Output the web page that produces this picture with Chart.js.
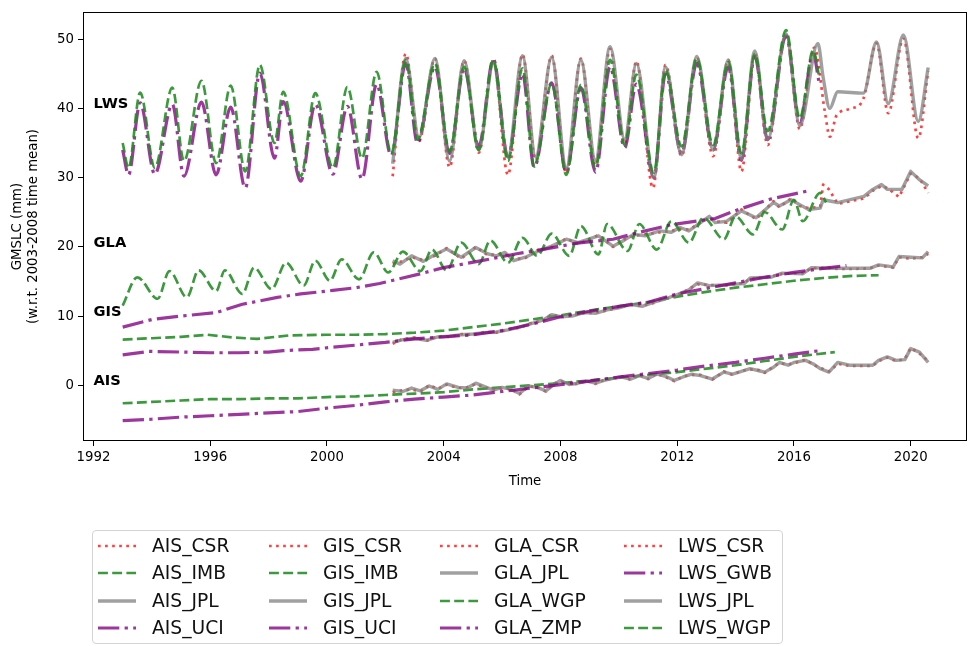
<!DOCTYPE html>
<html><head><meta charset="utf-8">
<script src="https://cdn.jsdelivr.net/npm/chart.js@4.4.1/dist/chart.umd.min.js"></script>
<style>
html,body{margin:0;padding:0;background:#fff;}
#wrap{position:relative;width:971px;height:646px;overflow:hidden;font-family:"DejaVu Sans",sans-serif;}
#c{position:absolute;left:0;top:0;}
#legendBox{position:absolute;left:92px;top:530px;width:691px;height:114px;border:1px solid #d4d4d4;border-radius:4px;box-sizing:border-box;}
.item{position:absolute;height:22px;display:flex;align-items:center;font-size:18.7px;color:#111;white-space:nowrap;line-height:22px;}
.item svg{flex:none;}
</style></head>
<body>
<div id="wrap">
<canvas id="c" width="971" height="646"></canvas>
<div id="legendBox"></div>
</div>
<script>
// ---------- axes ----------
const xTicks = [1992, 1996, 2000, 2004, 2008, 2012, 2016, 2020];
const yTicks = [0, 10, 20, 30, 40, 50];
const regionLabels = ['LWS', 'GLA', 'GIS', 'AIS'];
const regionLabelY = [40, 20, 10, 0];
const regionLabelX = 1992;

// ---------- AIS ----------
const AIS_CSR = [[2002.25,-1.0],[2002.6,-0.7],[2002.9,-0.6],[2003.2,-0.9],[2003.5,0.0],[2003.8,-0.5],[2004.1,0.1],[2004.5,-0.4],[2004.8,-0.3],[2005.1,0.2],[2005.4,-0.3],[2005.7,-0.6],[2006.0,-0.5],[2006.3,-0.5],[2006.6,-1.3],[2006.9,-0.2],[2007.2,-0.2],[2007.5,-0.9],[2007.8,0.3],[2008.0,0.6],[2008.3,0.2],[2008.6,0.2],[2008.9,0.7],[2009.2,0.2],[2009.5,0.8],[2009.8,0.9],[2010.1,1.3],[2010.4,0.8],[2010.7,1.5],[2011.0,0.9],[2011.3,1.7],[2011.6,1.2],[2011.9,0.6],[2012.2,1.3],[2012.5,1.5],[2012.8,1.5],[2013.2,0.8],[2013.6,2.0],[2013.9,1.5],[2014.2,2.1],[2014.5,2.3],[2014.8,2.2],[2015.0,1.8],[2015.3,2.7],[2015.5,3.2],[2015.8,3.0],[2016.0,3.2],[2016.4,3.7],[2016.7,2.9],[2016.9,2.5],[2017.2,2.0],[2017.5,3.1],[2017.9,2.8],[2018.3,2.8],[2018.7,2.8],[2018.9,3.5],[2019.2,4.0],[2019.5,3.5],[2019.8,3.8],[2020.0,5.4],[2020.3,4.6],[2020.6,3.5]];
const AIS_IMB = [[1993.0,-2.6],[1994.0,-2.4],[1995.0,-2.2],[1996.0,-2.0],[1997.0,-2.0],[1998.0,-1.9],[1999.0,-1.9],[2000.0,-1.7],[2001.0,-1.6],[2002.0,-1.4],[2003.0,-1.2],[2004.0,-1.0],[2005.0,-0.6],[2006.0,-0.3],[2007.0,0.0],[2008.0,0.3],[2009.0,0.7],[2010.0,1.1],[2011.0,1.5],[2012.0,1.9],[2013.0,2.4],[2014.0,2.9],[2015.0,3.5],[2016.0,4.1],[2017.4,4.8]];
const AIS_JPL = [[2002.25,-0.7],[2002.6,-0.9],[2002.9,-0.4],[2003.2,-0.8],[2003.5,-0.1],[2003.8,-0.6],[2004.1,0.2],[2004.5,-0.3],[2004.8,-0.4],[2005.1,0.3],[2005.4,-0.2],[2005.7,-0.7],[2006.0,-0.3],[2006.3,-0.6],[2006.6,-1.2],[2006.9,-0.1],[2007.2,-0.3],[2007.5,-0.8],[2007.8,0.2],[2008.0,0.7],[2008.3,0.1],[2008.6,0.3],[2008.9,0.6],[2009.2,0.3],[2009.5,0.7],[2009.8,1.0],[2010.1,1.2],[2010.4,0.9],[2010.7,1.4],[2011.0,1.0],[2011.3,1.6],[2011.6,1.3],[2011.9,0.7],[2012.2,1.2],[2012.5,1.6],[2012.8,1.4],[2013.2,0.9],[2013.6,1.9],[2013.9,1.6],[2014.2,2.0],[2014.5,2.4],[2014.8,2.1],[2015.0,1.9],[2015.3,2.6],[2015.5,3.3],[2015.8,2.9],[2016.0,3.3],[2016.4,3.6],[2016.7,3.0],[2016.9,2.4],[2017.2,1.9],[2017.5,3.3],[2017.9,2.9],[2018.7,2.9],[2018.9,3.6],[2019.2,4.1],[2019.5,3.6],[2019.8,3.7],[2020.0,5.3],[2020.3,4.8],[2020.6,3.3]];
const AIS_UCI = [[1993.0,-5.1],[1994.0,-4.9],[1995.0,-4.6],[1996.0,-4.4],[1997.0,-4.2],[1998.0,-4.0],[1999.0,-3.8],[2000.0,-3.3],[2001.0,-2.9],[2002.0,-2.4],[2003.0,-2.0],[2004.0,-1.7],[2005.0,-1.4],[2006.0,-0.9],[2007.0,-0.4],[2008.0,0.1],[2009.0,0.6],[2010.0,1.2],[2011.0,1.7],[2012.0,2.2],[2013.0,2.8],[2014.0,3.3],[2015.0,3.9],[2016.0,4.5],[2016.9,5.0]];

// ---------- GIS ----------
const GIS_CSR = [[2002.25,6.0],[2002.6,6.7],[2003.0,6.9],[2003.4,6.4],[2003.8,7.1],[2004.2,7.0],[2004.6,7.4],[2005.0,7.3],[2005.4,7.7],[2005.8,7.6],[2006.2,8.1],[2006.6,8.3],[2007.0,9.0],[2007.4,9.3],[2007.7,10.3],[2008.0,9.8],[2008.4,10.1],[2008.8,10.4],[2009.2,10.5],[2009.6,10.8],[2010.0,11.3],[2010.4,11.6],[2010.8,11.5],[2011.2,11.9],[2011.6,12.6],[2012.0,13.0],[2012.4,13.9],[2012.7,14.6],[2013.1,14.5],[2013.6,14.4],[2014.3,14.8],[2014.5,15.4],[2015.2,15.7],[2015.6,16.1],[2016.3,16.2],[2016.6,16.9],[2017.1,17.0],[2017.5,16.8],[2018.0,16.8],[2018.6,16.9],[2018.9,17.3],[2019.4,17.0],[2019.6,18.5],[2020.0,18.3],[2020.4,18.5],[2020.6,19.0]];
const GIS_IMB = [[1993.0,6.6],[1994.0,6.8],[1995.0,7.0],[1995.9,7.3],[1996.8,6.9],[1997.6,6.7],[1998.7,7.2],[2000.0,7.3],[2001.0,7.3],[2002.0,7.4],[2003.0,7.6],[2004.0,7.9],[2005.0,8.4],[2006.0,8.9],[2007.0,9.5],[2008.0,10.1],[2009.0,10.8],[2010.0,11.4],[2011.0,12.0],[2012.0,12.8],[2013.0,13.5],[2014.0,14.1],[2015.0,14.6],[2016.0,15.1],[2017.0,15.5],[2018.0,15.8],[2018.9,15.9]];
const GIS_JPL = [[2002.25,6.2],[2002.6,6.6],[2003.0,6.8],[2003.4,6.5],[2003.8,7.0],[2004.2,7.1],[2004.6,7.3],[2005.0,7.4],[2005.4,7.6],[2005.8,7.7],[2006.2,8.0],[2006.6,8.4],[2007.0,8.9],[2007.4,9.4],[2007.7,10.2],[2008.0,9.9],[2008.4,10.0],[2008.8,10.5],[2009.2,10.4],[2009.6,10.9],[2010.0,11.2],[2010.4,11.7],[2010.8,11.4],[2011.2,12.0],[2011.6,12.5],[2012.0,13.1],[2012.4,13.8],[2012.7,14.8],[2013.1,14.4],[2013.6,14.5],[2014.3,14.7],[2014.5,15.5],[2015.2,15.6],[2015.6,16.2],[2016.3,16.1],[2016.6,17.0],[2017.1,16.9],[2018.6,16.9],[2018.9,17.4],[2019.4,17.1],[2019.6,18.6],[2020.0,18.5],[2020.4,18.4],[2020.6,19.3]];
const GIS_UCI = [[1993.0,4.4],[1993.9,4.9],[1995.0,4.8],[1996.0,4.7],[1997.0,4.7],[1998.0,4.8],[1998.5,5.0],[1999.5,5.2],[2000.2,5.5],[2001.0,5.8],[2002.0,6.2],[2003.0,6.7],[2004.0,7.0],[2005.0,7.3],[2006.0,7.9],[2007.0,8.8],[2008.0,9.9],[2009.0,10.7],[2010.0,11.4],[2011.0,12.0],[2012.0,13.2],[2013.0,14.0],[2014.0,14.8],[2015.0,15.6],[2016.0,16.3],[2017.0,16.9],[2017.8,17.3]];

// ---------- GLA ----------
const GLA_CSR = [[2002.25,17.6],[2002.5,17.8],[2002.9,18.5],[2003.3,18.1],[2003.7,18.7],[2004.1,19.8],[2004.6,18.3],[2005.1,20.0],[2005.5,18.8],[2005.8,18.9],[2006.1,19.0],[2006.4,18.2],[2006.8,18.4],[2007.2,19.5],[2007.7,20.0],[2008.2,21.2],[2008.6,20.4],[2009.3,21.7],[2009.8,20.0],[2010.2,21.1],[2010.5,21.6],[2010.9,21.8],[2011.4,22.1],[2011.8,22.3],[2012.1,22.6],[2012.4,22.5],[2013.1,24.2],[2013.3,23.7],[2013.7,23.5],[2014.2,25.4],[2014.7,24.0],[2015.3,26.6],[2015.5,25.7],[2015.9,27.0],[2016.2,25.9],[2016.5,25.6],[2016.9,25.8],[2017.0,29.0],[2017.2,28.3],[2017.5,26.2],[2018.4,27.0],[2018.7,28.1],[2019.0,28.8],[2019.2,28.5],[2019.6,27.2],[2020.0,30.6],[2020.3,29.9],[2020.6,27.8]];
const GLA_JPL = [[2002.25,18.0],[2002.5,17.5],[2002.9,18.7],[2003.3,17.9],[2003.7,18.9],[2004.1,19.7],[2004.6,18.5],[2005.1,19.9],[2005.5,19.0],[2005.8,18.7],[2006.1,19.2],[2006.4,18.0],[2006.8,18.5],[2007.2,19.3],[2007.7,20.1],[2008.2,21.1],[2008.6,20.6],[2009.3,21.6],[2009.8,20.1],[2010.2,21.0],[2010.5,21.8],[2010.9,21.6],[2011.4,22.3],[2011.8,22.1],[2012.1,22.8],[2012.4,22.3],[2013.1,24.4],[2013.3,23.5],[2013.7,23.7],[2014.2,25.2],[2014.7,24.2],[2015.3,26.4],[2015.5,25.9],[2015.9,26.8],[2016.2,26.1],[2016.5,25.4],[2016.9,25.6],[2017.0,26.8],[2017.5,26.4],[2018.4,27.3],[2018.7,28.3],[2019.0,29.0],[2019.2,28.3],[2019.7,28.3],[2020.0,30.9],[2020.3,29.7],[2020.6,28.8]];
const GLA_WGP = [[1993.0,11.5],[1993.5,15.6],[1994.2,12.5],[1994.6,16.5],[1995.2,12.7],[1995.6,16.6],[1996.2,13.6],[1996.5,16.6],[1997.1,13.2],[1997.5,17.0],[1998.1,13.9],[1998.6,17.7],[1999.2,14.4],[1999.6,18.0],[2000.1,15.1],[2000.5,18.2],[2001.1,15.3],[2001.6,19.2],[2002.1,16.3],[2002.6,19.3],[2003.2,16.5],[2003.6,19.6],[2004.1,16.6],[2004.6,20.6],[2005.2,17.5],[2005.6,20.9],[2006.2,17.7],[2006.7,21.3],[2007.2,18.7],[2007.7,21.9],[2008.3,18.7],[2008.7,23.0],[2009.3,18.9],[2009.6,23.3],[2010.3,19.4],[2010.7,23.3],[2011.3,19.6],[2011.8,23.7],[2012.4,20.6],[2012.9,24.2],[2013.6,21.1],[2014.0,24.4],[2014.6,21.8],[2015.0,25.0],[2015.6,22.5],[2016.0,26.8],[2016.3,23.7],[2016.9,27.8],[2017.1,26.4]];
const GLA_ZMP = [[1993.0,8.4],[1994.0,9.5],[1995.0,10.0],[1996.2,10.5],[1997.1,11.7],[1998.3,12.7],[1999.1,13.2],[2000.2,13.7],[2001.0,14.1],[2001.8,14.7],[2003.2,16.1],[2004.0,17.0],[2005.3,18.0],[2006.5,19.0],[2007.5,19.7],[2008.5,20.5],[2009.8,21.1],[2010.8,22.2],[2011.8,23.2],[2013.3,24.1],[2014.1,25.4],[2015.2,26.9],[2016.5,28.1]];

// ---------- LWS ----------
const LWS_CSR = [[2002.25,30.2],[2002.7,47.9],[2003.15,35.3],[2003.7,47.2],[2004.2,31.5],[2004.7,46.9],[2005.2,33.6],[2005.7,46.8],[2006.2,30.4],[2006.7,47.8],[2007.15,32.5],[2007.7,47.6],[2008.2,30.6],[2008.7,47.2],[2009.2,31.8],[2009.7,48.6],[2010.2,34.9],[2010.6,46.8],[2011.17,28.5],[2011.6,46.3],[2012.15,33.1],[2012.67,47.4],[2013.23,33.1],[2013.75,47.0],[2014.2,30.9],[2014.66,48.0],[2015.1,34.7],[2015.73,50.6],[2016.2,37.0],[2016.7,48.8],[2017.06,39.5],[2017.23,35.9],[2017.46,39.0],[2017.98,40.0],[2018.38,41.4],[2018.83,49.4],[2019.23,39.3],[2019.75,50.1],[2020.26,35.7],[2020.6,45.4]];
const LWS_GWB = [[1993.0,34.0],[1993.2,30.4],[1993.6,40.8],[1994.1,30.5],[1994.7,40.6],[1995.1,30.2],[1995.7,40.9],[1996.2,30.4],[1996.7,40.2],[1997.2,28.5],[1997.7,45.1],[1998.2,32.8],[1998.5,41.0],[1999.1,29.5],[1999.6,40.6],[2000.2,30.5],[2000.7,40.3],[2001.2,29.8],[2001.7,43.5],[2002.2,33.2],[2002.7,46.5],[2003.1,35.0],[2003.7,46.0],[2004.2,33.5],[2004.7,45.8],[2005.2,34.5],[2005.7,47.1],[2006.2,33.0],[2006.7,45.0],[2007.1,31.5],[2007.7,43.7],[2008.2,30.8],[2008.7,43.0],[2009.2,30.8],[2009.7,46.0],[2010.2,34.3],[2010.6,43.5],[2011.2,30.0],[2011.6,45.0],[2012.15,33.5],[2012.67,46.5],[2013.23,34.0],[2013.75,46.0],[2014.2,32.5],[2014.66,47.5],[2015.1,35.5],[2015.73,50.5],[2016.2,38.0],[2016.66,48.0],[2016.85,44.0]];
const LWS_JPL = [[2002.25,32.0],[2002.7,47.2],[2003.15,35.8],[2003.7,47.2],[2004.2,32.4],[2004.7,46.9],[2005.2,34.0],[2005.7,46.5],[2006.2,33.0],[2006.7,47.6],[2007.15,33.0],[2007.7,47.4],[2008.2,31.4],[2008.7,47.0],[2009.2,32.5],[2009.7,48.9],[2010.2,35.5],[2010.6,46.5],[2011.2,30.0],[2011.6,46.0],[2012.15,33.3],[2012.67,47.5],[2013.23,34.0],[2013.75,47.0],[2014.2,32.7],[2014.66,48.3],[2015.1,35.5],[2015.73,50.8],[2016.2,37.5],[2016.82,49.4],[2017.0,44.5],[2017.23,40.0],[2017.5,42.4],[2018.38,42.2],[2018.83,49.6],[2019.23,40.7],[2019.75,50.6],[2020.26,38.1],[2020.6,45.9]];
const LWS_WGP = [[1993.0,35.0],[1993.2,31.4],[1993.6,42.3],[1994.1,31.4],[1994.7,43.0],[1995.1,32.4],[1995.7,44.0],[1996.2,32.1],[1996.7,43.3],[1997.2,30.9],[1997.7,46.3],[1998.2,35.0],[1998.5,42.4],[1999.1,30.2],[1999.6,42.2],[2000.2,31.4],[2000.7,43.1],[2001.2,32.8],[2001.7,45.3],[2002.2,33.5],[2002.7,47.0],[2003.1,35.5],[2003.7,46.5],[2004.2,33.8],[2004.7,46.0],[2005.2,34.0],[2005.7,47.0],[2006.2,32.4],[2006.7,45.8],[2007.1,31.6],[2007.7,43.6],[2008.2,30.4],[2008.7,43.4],[2009.2,31.4],[2009.7,47.0],[2010.2,34.7],[2010.6,44.9],[2011.2,30.7],[2011.6,45.5],[2012.15,34.5],[2012.67,47.2],[2013.23,34.7],[2013.75,46.7],[2014.2,33.5],[2014.66,47.9],[2015.1,36.7],[2015.73,51.3],[2016.2,38.6],[2016.66,48.4],[2016.85,44.9]];

// ---------- styles ----------
const STY = {
  CSR: {color:'rgba(255,0,0,0.75)', width:2.67, dash:[2.67,4.4]},
  IMB: {color:'rgba(34,139,34,0.88)', width:2.67, dash:[9.9,4.3]},
  WGP: {color:'rgba(34,139,34,0.88)', width:2.67, dash:[9.9,4.3]},
  JPL: {color:'rgba(128,128,128,0.75)', width:3.4, dash:[]},
  UCI: {color:'rgba(128,0,128,0.78)', width:3.2, dash:[21.3,5.3,3.3,5.3]},
  GWB: {color:'rgba(128,0,128,0.78)', width:3.2, dash:[21.3,5.3,3.3,5.3]},
  ZMP: {color:'rgba(128,0,128,0.78)', width:3.2, dash:[21.3,5.3,3.3,5.3]}
};
const series = [
  ['AIS_CSR',AIS_CSR],['AIS_IMB',AIS_IMB],['AIS_JPL',AIS_JPL],['AIS_UCI',AIS_UCI],
  ['GIS_CSR',GIS_CSR],['GIS_IMB',GIS_IMB],['GIS_JPL',GIS_JPL],['GIS_UCI',GIS_UCI],
  ['GLA_CSR',GLA_CSR],['GLA_JPL',GLA_JPL],['GLA_WGP',GLA_WGP],['GLA_ZMP',GLA_ZMP],
  ['LWS_CSR',LWS_CSR],['LWS_GWB',LWS_GWB],['LWS_JPL',LWS_JPL],['LWS_WGP',LWS_WGP]
];
const smooth = new Set(['LWS_CSR','LWS_GWB','LWS_JPL','LWS_WGP','GLA_WGP']);

const datasets = series.map(([name, arr], i) => {
  const s = STY[name.split('_')[1]];
  return {
    label: name,
    data: arr.map(p => ({x: p[0], y: p[1]})),
    borderColor: s.color,
    borderWidth: s.width,
    borderDash: s.dash,
    borderCapStyle: 'butt',
    borderJoinStyle: 'round',
    pointRadius: 0,
    fill: false,
    cubicInterpolationMode: smooth.has(name) ? 'monotone' : 'default',
    tension: 0,
    order: series.length - i
  };
});

const FONT = '"DejaVu Sans", sans-serif';

const framePlugin = {
  id: 'frame',
  afterDatasetsDraw(chart) {
    const {ctx, chartArea: a, scales} = chart;
    ctx.save();
    ctx.fillStyle = '#000';
    ctx.font = 'bold 14.67px ' + FONT;
    ctx.textAlign = 'left';
    ctx.textBaseline = 'alphabetic';
    regionLabels.forEach((t, i) => {
      ctx.fillText(t, scales.x.getPixelForValue(regionLabelX), scales.y.getPixelForValue(regionLabelY[i]));
    });
    ctx.strokeStyle = '#000';
    ctx.lineWidth = 1;
    ctx.strokeRect(Math.round(a.left) + 0.5, Math.round(a.top) + 0.5, Math.round(a.right - a.left) - 1, Math.round(a.bottom - a.top) - 1);
    ctx.restore();
  }
};

new Chart(document.getElementById('c'), {
  type: 'line',
  data: {datasets},
  plugins: [framePlugin],
  options: {
    responsive: false,
    animation: false,
    devicePixelRatio: 1,
    layout: {padding: {left: 0, right: 4, top: 10, bottom: 156}},
    plugins: {legend: {display: false}, tooltip: {enabled: false}},
    scales: {
      x: {
        type: 'linear', min: 1991.64, max: 2021.93,
        afterBuildTicks: s => { s.ticks = xTicks.map(v => ({value: v})); },
        afterFit: s => { s.height = 49; },
        grid: {display: true, drawOnChartArea: false, drawTicks: true, tickLength: 5, color: '#000'},
        border: {display: false},
        ticks: {color: '#000', font: {family: FONT, size: 13.3}, padding: 4, maxRotation: 0, autoSkip: false, callback: v => String(v)},
        title: {display: true, text: 'Time', color: '#000', font: {family: FONT, size: 13.3}, padding: {top: 0, bottom: 0}}
      },
      y: {
        type: 'linear', min: -8.05, max: 53.93,
        afterBuildTicks: s => { s.ticks = yTicks.map(v => ({value: v})); },
        afterFit: s => { s.width = 83; },
        grid: {display: true, drawOnChartArea: false, drawTicks: true, tickLength: 5, color: '#000'},
        border: {display: false},
        ticks: {color: '#000', font: {family: FONT, size: 13.3}, padding: 4, callback: v => String(v)},
        title: {display: true, text: ['GMSLC (mm)', '(w.r.t. 2003-2008 time mean)'], color: '#000', font: {family: FONT, size: 13.3, lineHeight: 1.2}, padding: {top: 10, bottom: 0}}
      }
    }
  }
});

// ---------- legend (matplotlib-style, 4 columns, column-major) ----------
const legendColX = [98, 269, 440, 624];
const legendRowY = [545.5, 573, 600.5, 628];
const wrap = document.getElementById('wrap');
series.forEach(([name], i) => {
  const s = STY[name.split('_')[1]];
  const col = Math.floor(i / 4), row = i % 4;
  const d = document.createElement('div');
  d.className = 'item';
  d.style.left = legendColX[col] + 'px';
  d.style.top = (legendRowY[row] - 11) + 'px';
  d.innerHTML = '<svg width="38" height="10" style="margin-right:16px"><line x1="0" y1="5" x2="38" y2="5" stroke="' + s.color +
    '" stroke-width="' + s.width + '" stroke-dasharray="' + (s.dash.length ? s.dash.join(',') : 'none') + '"/></svg><span>' + name + '</span>';
  wrap.appendChild(d);
});
</script>
</body></html>
